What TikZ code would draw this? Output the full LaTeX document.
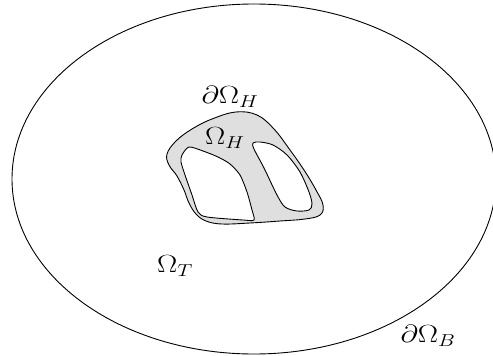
\documentclass[tikz,border=0pt]{standalone}
\begin{document}
\begin{tikzpicture}[x=1pt,y=-1pt,
  lbl/.style={inner sep=0pt, font=\fontsize{27}{32}\selectfont, xscale=1.22},
  bnd/.style={draw=black, line width=0.9pt}]
\useasboundingbox (0,0) rectangle (493,356);
\draw[bnd] (254,179) ellipse [x radius=242, y radius=175];
% outer region
\draw[bnd, fill=gray!25] plot[smooth cycle, tension=0.65] coordinates {
 (236,112) (212,119) (192,129) (176,141) (167,154) (169,165) (177,176)
 (184,190) (189,203) (196,214) (206,221) (222,224) (250,223) (280,221)
 (305,219) (320,215) (323,205) (316,190) (304,170) (290,150) (274,129) (257,115)};
% left hole
\draw[bnd, fill=white] plot[smooth cycle, tension=0.45] coordinates {
 (189,147) (203,151) (218,157) (230,164) (240,175) (247,192) (252,210) (254,220)
 (243,220) (207,217) (198,212) (192,195) (185,175) (181,162) (182,155)};
% right hole
\draw[bnd, fill=white] plot[smooth cycle, tension=0.5] coordinates {
 (253,143) (260,142) (273,145) (287,155) (300,172) (309,192) (312,204) (309,210)
 (297,211) (285,207) (277,195) (264,168) (254,149)};
\node[lbl] (dH) at (230,97) {$\partial\Omega_H$};
\node[lbl] (H) at (225,138) {$\Omega_H$};
\node[lbl] (T) at (175,266) {$\Omega_T$};
\node[lbl] (dB) at (428,336) {$\partial\Omega_B$};
\end{tikzpicture}
\end{document}
